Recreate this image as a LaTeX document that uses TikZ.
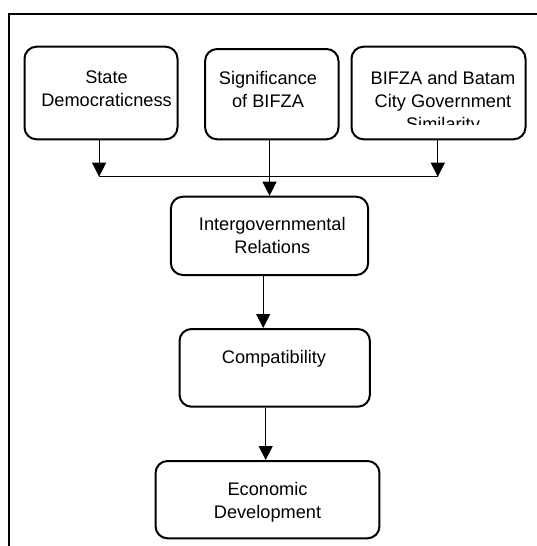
\documentclass[tikz,border=0pt]{standalone}
\usepackage{fontspec}
\setmainfont{Liberation Sans}
\usetikzlibrary{arrows.meta}
\tikzset{
  box/.style={draw, line width=2pt, rounded corners=12pt, inner sep=0pt},
  lbl/.style={anchor=north, inner sep=0pt, align=center, font=\fontsize{18.2}{23}\selectfont},
  conn/.style={line width=1.2pt},
  arr/.style={conn, -{Triangle[width=14pt,length=14pt]}},
  frame/.style={line width=2.4pt}
}
\begin{document}
\begin{tikzpicture}[x=1pt,y=-1pt]
\useasboundingbox (0,0) rectangle (536,546);
\fill[white] (0,0) rectangle (536,546);
% outer frame (top and left edges visible)
\coordinate (fbl) at (9.2,547);
\coordinate (ftl) at (9.2,13.7);
\coordinate (ftr) at (537,13.7);
\draw[frame] (fbl) -- (ftl) -- (ftr);

% boxes
\node[box, minimum width=153pt, minimum height=92.6pt] (b1) at (101,93) {};
\node[box, minimum width=133.4pt, minimum height=90.3pt] (b2) at (271.8,94.15) {};
\node[box, minimum width=174pt, minimum height=92.6pt] (b3) at (438.5,93) {};
\node[box, minimum width=197.3pt, minimum height=78.3pt] (b4) at (269.5,235.85) {};
\node[box, minimum width=190.4pt, minimum height=77.7pt] (b5) at (274.7,367.85) {};
\node[box, minimum width=223.9pt, minimum height=77.3pt] (b6) at (267.5,499.65) {};

% labels
\node[lbl] (t1) at (106.5,71) {State\\Democraticness};
\node[lbl] (t2) at (268,71) {Significance\\of BIFZA};
\coordinate (cliptop) at (0,60);
\coordinate (clipbot) at (0,124.5);
\begin{scope}
\clip (b3.west |- cliptop) rectangle (b3.east |- clipbot);
\node[lbl] (t3) at (443,71) {BIFZA and Batam\\City Government\\Similarity};
\end{scope}
\node[lbl] (t4) at (272.3,217) {Intergovernmental\\Relations};
\node[lbl] (t5) at (274,350.3) {Compatibility};
\node[lbl] (t6) at (267.5,482) {Economic\\Development};

% junction
\coordinate (jl) at (99.1,176.7);
\coordinate (jr) at (437.8,176.7);
\draw[arr] (b1.south -| jl) -- (jl);
\draw[arr] (b3.south -| jr) -- (jr);
\draw[conn] (jl) -- (jr);
\draw[arr] (b2.south -| b4.north) -- (b4.north);
\draw[arr] ([xshift=-6.3pt]b4.south) -- ([xshift=-6.3pt]b4.south |- b5.north);
\draw[arr] ([xshift=-9pt]b5.south) -- ([xshift=-9pt]b5.south |- b6.north);
\end{tikzpicture}
\end{document}
